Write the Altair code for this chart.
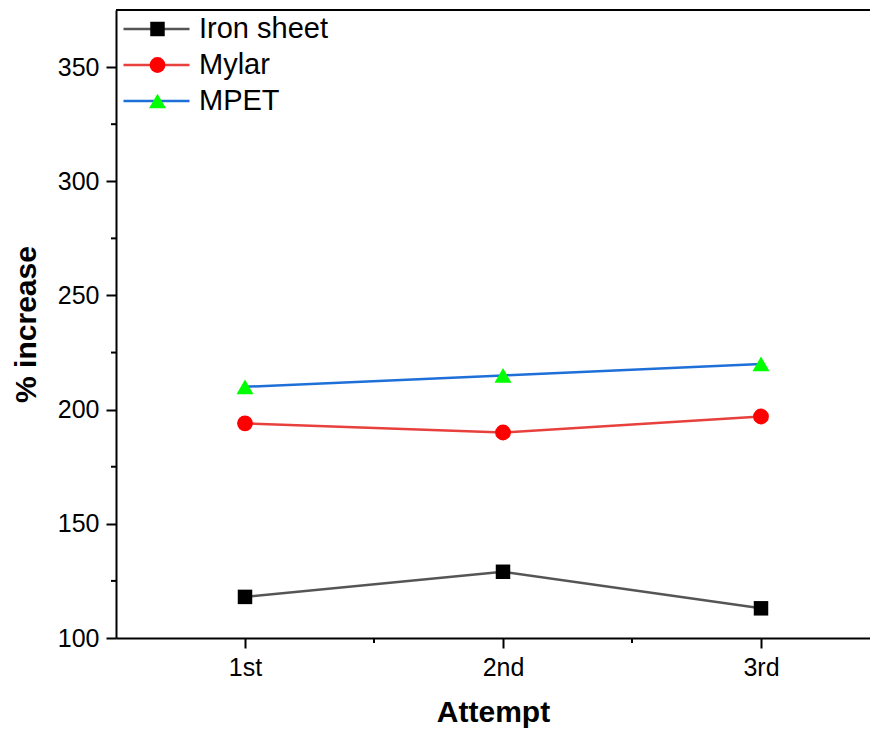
import altair as alt
import pandas as pd

attempts = ["1st", "2nd", "3rd"]
series = ["Iron sheet", "Mylar", "MPET"]
iron_sheet = [118, 129, 113]
mylar = [194, 190, 197]
mpet = [210, 215, 220]

y_ticks = [100, 150, 200, 250, 300, 350]
y_minor = [125, 175, 225, 275, 325]
x_minor = [1.5, 2.5]

line_colors = ["#555555", "#e8403c", "#1f6fd8"]
marker_colors = ["#000000", "#ff0000", "#00ff00"]
marker_shapes = ["square", "circle", "triangle-up"]
marker_sizes = [210, 290, 380]

FONT = "Liberation Sans"
W, H = 754, 628

rows = []
for s, vals in zip(series, [iron_sheet, mylar, mpet]):
    for i, (a, v) in enumerate(zip(attempts, vals)):
        rows.append({"series": s, "marker": s, "attempt": a, "pos": i + 1, "value": v})
df = pd.DataFrame(rows)

label_expr = "[" + ",".join("'%s'" % a for a in attempts) + "][datum.value - 1]"

xscale = alt.Scale(domain=[0.5, 0.5 + W / 258.0], nice=False, zero=False)
yscale = alt.Scale(domain=[100, 375], nice=False, zero=False)

x_enc = alt.X(
    "pos:Q", scale=xscale,
    axis=alt.Axis(values=[1, 2, 3], labelExpr=label_expr, title="Attempt",
                  tickSize=10, tickWidth=2, domainWidth=2, labelPadding=7,
                  labelFontSize=25, titleFontSize=30, titleFontWeight="bold",
                  titlePadding=17, grid=False, labelFont=FONT, titleFont=FONT,
                  domainColor="black", tickColor="black", labelColor="black",
                  titleColor="black", labelFlush=False),
)
y_enc = alt.Y(
    "value:Q", scale=yscale,
    axis=alt.Axis(values=y_ticks, title="% increase",
                  tickSize=10, tickWidth=2, domainWidth=2, labelPadding=7,
                  labelFontSize=25, titleFontSize=30, titleFontWeight="bold",
                  titlePadding=16, grid=False, labelFont=FONT, titleFont=FONT,
                  domainColor="black", tickColor="black", labelColor="black",
                  titleColor="black", labelFlush=False),
)

line_legend = alt.Legend(
    title=None, orient="none", legendX=6, legendY=1, symbolType="stroke",
    symbolSize=4356, symbolStrokeWidth=2.5, clipHeight=36, rowPadding=0,
    padding=0, labelFontSize=29, labelFont=FONT, labelColor="black",
    labelOffset=8, labelLimit=0,
    labelExpr="datum.label == 'Mylar' ? '\u00a0Mylar' : datum.label",
)
marker_legend = alt.Legend(
    title=None, orient="none", legendX=27, legendY=1,
    symbolStrokeWidth=0, clipHeight=36, rowPadding=0, padding=0,
    labelFontSize=29, labelFont=FONT, labelExpr="''",
    symbolOpacity=1,
)

lines = alt.Chart(df).mark_line(strokeWidth=2.5).encode(
    x=x_enc, y=y_enc,
    color=alt.Color("series:N", sort=series, scale=alt.Scale(range=line_colors),
                    legend=line_legend),
)
points = alt.Chart(df).mark_point(filled=True, opacity=1, strokeWidth=0).encode(
    x=alt.X("pos:Q", scale=xscale), y=alt.Y("value:Q", scale=yscale),
    fill=alt.Fill("marker:N", scale=alt.Scale(domain=series, range=marker_colors),
                  legend=marker_legend),
    shape=alt.Shape("marker:N", scale=alt.Scale(domain=series, range=marker_shapes),
                    legend=marker_legend),
    size=alt.Size("marker:N", scale=alt.Scale(domain=series, range=marker_sizes),
                  legend=marker_legend),
)

top_line = alt.Chart(pd.DataFrame({"v": [375]})).mark_rule(
    color="black", strokeWidth=2).encode(
    y=alt.Y("v:Q", scale=yscale), x=alt.value(0), x2=alt.value(W))

ymin = alt.Chart(pd.DataFrame({"v": y_minor})).mark_rule(
    color="black", strokeWidth=2).encode(
    y=alt.Y("v:Q", scale=yscale), x=alt.value(-5), x2=alt.value(0))

xmin = alt.Chart(pd.DataFrame({"p": x_minor})).mark_rule(
    color="black", strokeWidth=2).encode(
    x=alt.X("p:Q", scale=xscale), y=alt.value(H), y2=alt.value(H + 5))

chart = alt.layer(lines, points, top_line, ymin, xmin).properties(
    width=W, height=H,
    autosize=alt.AutoSizeParams(type="none"),
    padding={"left": 108, "top": 2, "right": 0, "bottom": 92},
).configure_view(stroke=None).configure(background="white")

chart.save("out.html", embed_options={"renderer": "svg", "actions": False})
